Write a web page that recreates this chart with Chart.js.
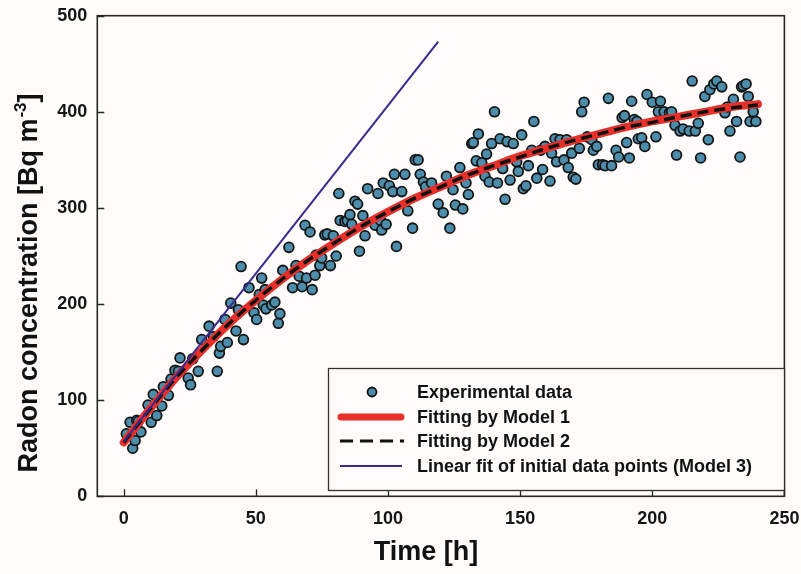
<!DOCTYPE html>
<html>
<head>
<meta charset="utf-8">
<script src="https://cdn.jsdelivr.net/npm/chart.js@4/dist/chart.umd.min.js"></script>
<style>
html, body { margin: 0; padding: 0; background: #fdfcfa; }
#wrap { width: 801px; height: 574px; position: relative; }
</style>
</head>
<body>
<div id="wrap"><canvas id="c" width="801" height="574"></canvas></div>
<script>
// ---- Data ----
const timeHours = [
  1.0, 2.4, 3.4, 4.3, 4.9, 5.5, 6.5, 9.2, 10.4, 11.2,
  12.5, 14.4, 15.0, 16.9, 17.9, 19.4, 20.7, 21.3, 24.4, 25.3,
  26.1, 28.2, 29.5, 32.3, 33.9, 35.4, 36.2, 36.7, 38.3, 39.2,
  40.5, 42.5, 43.4, 44.4, 45.3, 47.4, 49.3, 50.3, 51.3, 52.2,
  52.8, 53.5, 53.8, 56.0, 57.2, 58.5, 59.1, 60.2, 62.5, 63.9,
  65.2, 66.4, 67.5, 68.6, 69.2, 70.5, 71.3, 72.4, 72.8, 74.2,
  74.9, 76.1, 77.0, 78.2, 79.3, 80.4, 81.4, 81.9, 83.7, 84.6,
  85.6, 86.3, 87.5, 88.5, 89.2, 90.5, 91.3, 92.3, 95.1, 96.2,
  97.2, 97.6, 98.2, 99.3, 100.5, 101.8, 102.4, 103.2, 105.2, 106.4,
  107.5, 109.3, 110.3, 111.4, 112.2, 113.4, 114.2, 116.5, 119.0, 120.9,
  122.1, 123.4, 124.6, 125.5, 127.2, 128.3, 129.5, 130.4, 131.7, 132.3,
  133.4, 134.2, 135.5, 136.7, 137.3, 138.3, 139.2, 140.3, 141.4, 142.4,
  143.4, 144.3, 145.1, 146.2, 147.4, 148.7, 149.3, 150.6, 151.2, 152.2,
  153.1, 154.4, 155.2, 156.3, 157.8, 158.5, 159.4, 161.3, 161.9, 163.2,
  163.8, 165.1, 166.6, 167.6, 168.2, 169.5, 170.1, 171.1, 172.4, 173.3,
  174.2, 175.4, 177.1, 177.7, 179.0, 179.6, 181.2, 182.1, 183.4, 184.6,
  186.3, 187.3, 188.6, 189.5, 190.3, 191.3, 192.2, 193.2, 194.2, 194.7,
  196.0, 197.2, 198.0, 200.0, 201.4, 202.3, 203.1, 204.5, 206.5, 207.3,
  208.6, 209.2, 210.5, 211.7, 214.0, 215.1, 216.3, 217.4, 218.3, 219.9,
  221.2, 221.8, 223.3, 224.4, 226.3, 227.5, 228.4, 229.4, 230.7, 231.9,
  233.2, 233.8, 234.4, 235.5, 236.3, 237.0, 238.2, 239.2
];
const radonConc = [
  65, 77, 50, 58, 79, 78, 67, 95, 77, 106,
  84, 94, 114, 105, 122, 131, 130, 144, 123, 116,
  143, 130, 163, 177, 166, 130, 149, 156, 184, 160,
  201, 172, 194, 239, 163, 217, 191, 184, 210, 227,
  199, 215, 195, 199, 202, 180, 190, 235, 259, 217,
  240, 229, 218, 282, 227, 275, 215, 230, 251, 240,
  248, 272, 273, 240, 271, 250, 315, 287, 286, 287,
  293, 283, 307, 304, 255, 292, 271, 320, 282, 315,
  287, 277, 326, 283, 323, 317, 335, 260, 317, 335,
  297, 279, 350, 350, 335, 327, 322, 326, 304, 295,
  333, 279, 319, 303, 342, 299, 326, 314, 367, 368,
  349, 377, 347, 333, 356, 327, 367, 400, 326, 372,
  341, 309, 369, 329, 367, 348, 338, 376, 320, 323,
  344, 360, 390, 331, 360, 340, 364, 328, 357, 372,
  348, 371, 350, 371, 342, 357, 332, 330, 362, 400,
  410, 374, 371, 360, 364, 345, 345, 344, 414, 344,
  360, 353, 394, 396, 368, 352, 411, 392, 390, 372,
  373, 364, 418, 410, 374, 400, 411, 400, 399, 400,
  386, 355, 380, 382, 380, 432, 380, 388, 352, 416,
  371, 423, 429, 432, 426, 399, 405, 380, 413, 390,
  353, 426, 427, 429, 416, 390, 400, 390
];
const fitTime   = [0, 10, 20, 30, 40, 50, 60, 70, 80, 90, 100, 110, 120, 130, 140, 150, 160, 170, 180, 190, 200, 210, 220, 230, 240];
const model1Fit = [56, 91, 124, 153, 180, 204, 226, 246, 264, 281, 296, 310, 322, 334, 344, 354, 362, 370, 377, 384, 390, 395, 400, 405, 408];
const model2Fit = [56, 91, 124, 153, 180, 204, 226, 246, 264, 281, 296, 310, 322, 334, 344, 353, 362, 370, 377, 384, 389, 395, 400, 404, 407];
const linearTime = [0, 119];
const linearFit  = [57, 473];
const xTickValues = [0, 50, 100, 150, 200, 250];
const yTickValues = [0, 100, 200, 300, 400, 500];
const seriesLabels = ['Experimental data', 'Fitting by Model 1', 'Fitting by Model 2', 'Linear fit of initial data points (Model 3)'];
const xTitle = 'Time [h]';
const yTitleMain = 'Radon concentration [Bq m';
const yTitleSup = '-3';
const yTitleEnd = ']';

const FONT = '"Liberation Sans", Arial, Helvetica, sans-serif';
const toXY = (xs, ys) => xs.map((x, i) => ({ x: x, y: ys[i] }));

const framePlugin = {
  id: 'frameTicksLegend',
  afterDraw(chart) {
    const ctx = chart.ctx;
    const a = chart.chartArea;
    const xs = chart.scales.x, ys = chart.scales.y;
    ctx.save();
    // frame
    ctx.strokeStyle = '#262626';
    ctx.lineWidth = 1.6;
    ctx.strokeRect(a.left, a.top, a.right - a.left, a.bottom - a.top);
    // inward ticks
    ctx.lineWidth = 1.3;
    ctx.beginPath();
    xTickValues.forEach(v => {
      const px = Math.round(xs.getPixelForValue(v)) + 0.5;
      ctx.moveTo(px, a.bottom); ctx.lineTo(px, a.bottom - 7);
    });
    yTickValues.forEach(v => {
      const py = Math.round(ys.getPixelForValue(v)) + 0.5;
      ctx.moveTo(a.left, py); ctx.lineTo(a.left + 7, py);
    });
    ctx.stroke();

    // axis titles
    ctx.fillStyle = '#111';
    ctx.font = 'bold 27px ' + FONT;
    ctx.textAlign = 'center';
    ctx.textBaseline = 'middle';
    ctx.fillText(xTitle, 426, 553);

    ctx.save();
    ctx.translate(37, 283);
    ctx.rotate(-Math.PI / 2);
    ctx.textBaseline = 'alphabetic';
    ctx.textAlign = 'left';
    const fMain = 'bold 27px ' + FONT, fSup = 'bold 17px ' + FONT;
    ctx.font = fMain; const w1 = ctx.measureText(yTitleMain).width;
    const w3 = ctx.measureText(yTitleEnd).width;
    ctx.font = fSup; const w2 = ctx.measureText(yTitleSup).width;
    const total = w1 + w2 + w3 + 1;
    let x0 = -total / 2;
    ctx.font = fMain; ctx.fillText(yTitleMain, x0, 0);
    ctx.font = fSup; ctx.fillText(yTitleSup, x0 + w1 + 1, -11);
    ctx.font = fMain; ctx.fillText(yTitleEnd, x0 + w1 + w2 + 1, 0);
    ctx.restore();

    // legend box
    const lx = 328.5, ly = 368.5, lw = 456, lh = 122;
    ctx.fillStyle = '#fdfcfa';
    ctx.fillRect(lx, ly, lw, lh);
    ctx.strokeStyle = '#333';
    ctx.lineWidth = 1.3;
    ctx.strokeRect(lx, ly, lw, lh);
    const rows = [392, 417, 441, 466];
    const ds = chart.data.datasets;
    // marker
    ctx.beginPath();
    ctx.arc(372, rows[0], 4.5, 0, Math.PI * 2);
    ctx.fillStyle = ds[0].backgroundColor;
    ctx.fill();
    ctx.lineWidth = 1.8; ctx.strokeStyle = ds[0].borderColor; ctx.stroke();
    // red line
    ctx.lineCap = 'round';
    ctx.beginPath(); ctx.moveTo(341, rows[1]); ctx.lineTo(401, rows[1]);
    ctx.strokeStyle = ds[1].borderColor; ctx.lineWidth = 7; ctx.stroke();
    // dashed
    ctx.lineCap = 'butt';
    ctx.beginPath(); ctx.moveTo(340, rows[2]); ctx.lineTo(404, rows[2]);
    ctx.setLineDash([13, 7]);
    ctx.strokeStyle = ds[2].borderColor; ctx.lineWidth = 3; ctx.stroke();
    ctx.setLineDash([]);
    // purple
    ctx.beginPath(); ctx.moveTo(340, rows[3]); ctx.lineTo(402, rows[3]);
    ctx.strokeStyle = ds[3].borderColor; ctx.lineWidth = 2; ctx.stroke();
    // texts
    ctx.fillStyle = '#111';
    ctx.font = 'bold 18px ' + FONT;
    ctx.textAlign = 'left';
    ctx.textBaseline = 'middle';
    seriesLabels.forEach((t, i) => ctx.fillText(t, 417, rows[i] + 1));
    ctx.restore();
  }
};

const tickFont = { family: FONT, size: 18, weight: 'bold' };

new Chart(document.getElementById('c'), {
  type: 'scatter',
  data: {
    datasets: [
      {
        label: seriesLabels[0],
        data: toXY(timeHours, radonConc),
        backgroundColor: '#4b8dab',
        borderColor: '#151515',
        borderWidth: 1.8,
        pointRadius: 4.9,
        showLine: false,
        order: 4
      },
      {
        label: seriesLabels[1],
        data: toXY(fitTime, model1Fit),
        showLine: true,
        borderColor: '#e8302a',
        backgroundColor: '#e8302a',
        borderWidth: 8,
        borderCapStyle: 'round',
        cubicInterpolationMode: 'monotone',
        pointRadius: 0,
        order: 3
      },
      {
        label: seriesLabels[2],
        data: toXY(fitTime, model2Fit),
        showLine: true,
        borderColor: '#111111',
        backgroundColor: '#111111',
        borderWidth: 3.5,
        borderDash: [11, 6],
        cubicInterpolationMode: 'monotone',
        pointRadius: 0,
        order: 2
      },
      {
        label: seriesLabels[3],
        data: toXY(linearTime, linearFit),
        showLine: true,
        borderColor: '#3a2a8f',
        backgroundColor: '#3a2a8f',
        borderWidth: 2,
        pointRadius: 0,
        order: 1
      }
    ]
  },
  options: {
    responsive: false,
    animation: false,
    events: [],
    layout: { padding: { left: 0, right: 16.6, top: 15.7, bottom: 0 } },
    plugins: { legend: { display: false }, tooltip: { enabled: false } },
    scales: {
      x: {
        type: 'linear',
        min: -10, max: 250,
        afterBuildTicks: s => { s.ticks = xTickValues.map(v => ({ value: v })); },
        afterFit: s => { s.height = 77.7; s.paddingLeft = 0; s.paddingRight = 0; },
        grid: { display: false, drawTicks: false },
        border: { display: false },
        ticks: { font: tickFont, color: '#151515', padding: 12, maxRotation: 0 }
      },
      y: {
        type: 'linear',
        min: 0, max: 500,
        afterBuildTicks: s => { s.ticks = yTickValues.map(v => ({ value: v })); },
        afterFit: s => { s.width = 97.3; s.paddingTop = 0; s.paddingBottom = 0; },
        grid: { display: false, drawTicks: false },
        border: { display: false },
        ticks: { font: tickFont, color: '#151515', padding: 10 }
      }
    }
  },
  plugins: [framePlugin]
});
</script>
</body>
</html>
